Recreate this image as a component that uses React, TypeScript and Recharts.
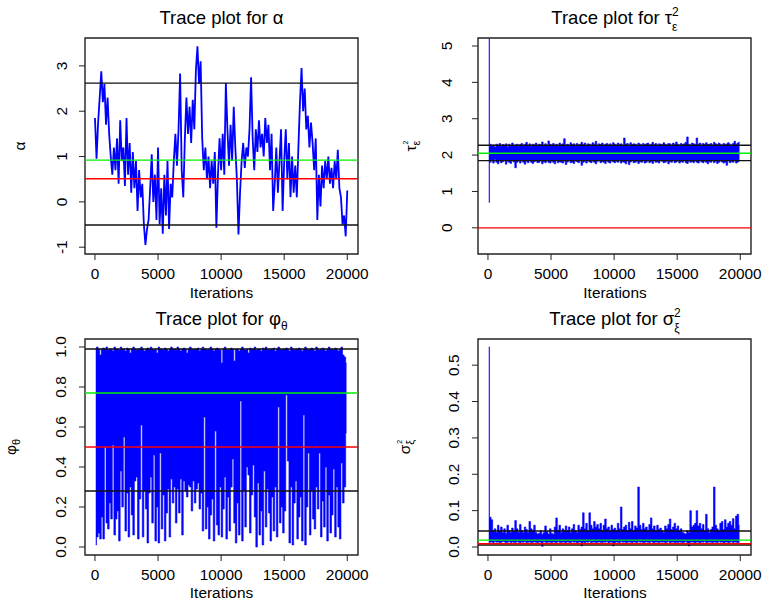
import React from 'react';
import { ComposedChart, Line, Area, XAxis, YAxis, ReferenceLine, ReferenceArea } from 'recharts';

const FONT = '"Liberation Sans", Arial, Helvetica, sans-serif';
const BLUE = '#0000FF';
const RED = '#FF0000';
const GREEN = '#00F000';
const BLACK = '#111111';

const ITER_STEP = 125;
const X_DOMAIN: [number, number] = [-790, 20850];
const xTicks = [0, 5000, 10000, 15000, 20000];

// alpha trace (one sample every 125 iterations)
const alphaTrace = [
  1.85, 0.95, 1.75, 2.3, 2.88, 2.2, 2.6, 1.7, 2.3, 1.5,
  1.0, 0.6, 1.2, 0.7, 1.4, 0.4, 1.8, 0.9, 1.2, 0.35,
  1.85, 0.6, 1.3, 0.2, 1.1, 0.3, 0.9, -0.2, 0.7, 0.1,
  0.4, -0.5, -0.95, -0.6, -0.4, 0.3, 1.05, 0.0, 0.6, -0.4,
  1.2, -0.5, 0.3, -0.7, 0.6, -0.3, 0.9, -0.6, 0.4, 0.1,
  0.9, 1.5, 0.8, 1.6, 2.83, 0.7, 0.1, 1.4, 2.3, 1.5,
  2.1, 1.3, 2.25, 1.6, 2.9, 3.43, 2.6, 3.1, 1.4, 0.7,
  1.2, 0.5, 1.0, 0.3, 0.9, 0.4, 1.1, -0.57, 0.6, 1.4,
  0.7, 1.5, 0.6, 2.62, 1.6, 0.8, 1.7, 0.9, 2.1, 1.2,
  0.5, -0.72, 0.2, 0.9, 1.3, 0.75, 1.2, 1.0, 1.6, 2.75,
  1.4, 0.7, 1.6, 1.1, 1.8, 1.2, 1.5, 1.0, 1.85, 1.3,
  1.7, 0.7, 1.5, -0.2, 0.4, 1.2, 0.2, 0.9, 1.6, -0.2,
  0.9, 1.6, 0.5, 1.3, 0.1, 1.0, 0.2, 0.8, 0.1, 1.2,
  2.2, 2.95, 2.0, 2.5, 1.6, 1.9, 1.2, 1.75, 1.3, 0.7,
  1.4, -0.4, 0.6, -0.1, 0.8, 0.3, 0.9, 0.5, 1.0, 0.4,
  0.75, 0.3, 0.9, 0.5, 1.15, 0.3, 0.1, -0.5, -0.3, -0.76,
  0.25,
];

// tau: min / max of the trace within each 125-iteration bin
const tauLo = [
  0.7, 1.8, 1.85, 1.78, 1.88, 1.8, 1.76, 1.84, 1.79, 1.82,
  1.86, 1.75, 1.83, 1.8, 1.77, 1.85, 1.81, 1.65, 1.8, 1.84,
  1.78, 1.86, 1.8, 1.75, 1.83, 1.79, 1.85, 1.8, 1.77, 1.82,
  1.84, 1.79, 1.8, 1.86, 1.76, 1.82, 1.79, 1.85, 1.8, 1.78,
  1.83, 1.8, 1.76, 1.85, 1.79, 1.82, 1.8, 1.78, 1.84, 1.74,
  1.81, 1.86, 1.79, 1.8, 1.77, 1.84, 1.82, 1.79, 1.85, 1.72,
  1.8, 1.83, 1.78, 1.85, 1.81, 1.79, 1.84, 1.8, 1.76, 1.83,
  1.85, 1.79, 1.82, 1.8, 1.77, 1.84, 1.8, 1.78, 1.86, 1.81,
  1.79, 1.83, 1.8, 1.85, 1.78, 1.82, 1.8, 1.76, 1.84, 1.74,
  1.81, 1.85, 1.79, 1.8, 1.83, 1.77, 1.82, 1.8, 1.84, 1.78,
  1.8, 1.86, 1.79, 1.82, 1.77, 1.84, 1.8, 1.81, 1.78, 1.85,
  1.83, 1.79, 1.8, 1.84, 1.76, 1.82, 1.8, 1.85, 1.79, 1.81,
  1.84, 1.78, 1.82, 1.8, 1.85, 1.79, 1.77, 1.83, 1.8, 1.82,
  1.79, 1.84, 1.8, 1.78, 1.85, 1.81, 1.79, 1.83, 1.8, 1.76,
  1.82, 1.8, 1.85, 1.79, 1.83, 1.77, 1.8, 1.84, 1.81, 1.78,
  1.8, 1.72, 1.84, 1.79, 1.82, 1.8, 1.85, 1.78, 1.81, 1.83,
];
const tauHi = [
  5.2, 2.3, 2.25, 2.28, 2.22, 2.3, 2.26, 2.32, 2.24, 2.29,
  2.27, 2.31, 2.23, 2.3, 2.26, 2.33, 2.25, 2.28, 2.3, 2.24,
  2.29, 2.32, 2.26, 2.3, 2.35, 2.27, 2.31, 2.24, 2.3, 2.28,
  2.33, 2.26, 2.3, 2.29, 2.36, 2.27, 2.31, 2.25, 2.39, 2.3,
  2.28, 2.32, 2.27, 2.3, 2.25, 2.33, 2.29, 2.31, 2.45, 2.28,
  2.3, 2.26, 2.34, 2.29, 2.31, 2.27, 2.32, 2.28, 2.3, 2.35,
  2.29, 2.33, 2.26, 2.31, 2.3, 2.28, 2.34, 2.3, 2.38, 2.27,
  2.31, 2.29, 2.33, 2.26, 2.3, 2.32, 2.28, 2.31, 2.27, 2.34,
  2.3, 2.28, 2.33, 2.29, 2.31, 2.27, 2.47, 2.3, 2.32, 2.28,
  2.34, 2.29, 2.31, 2.3, 2.27, 2.33, 2.3, 2.28, 2.32, 2.29,
  2.31, 2.33, 2.28, 2.3, 2.35, 2.29, 2.32, 2.27, 2.31, 2.3,
  2.29, 2.34, 2.3, 2.28, 2.32, 2.31, 2.27, 2.33, 2.3, 2.36,
  2.3, 2.28, 2.32, 2.29, 2.31, 2.35, 2.5, 2.3, 2.28, 2.33,
  2.31, 2.29, 2.47, 2.3, 2.33, 2.28, 2.32, 2.3, 2.34, 2.29,
  2.3, 2.32, 2.28, 2.35, 2.31, 2.29, 2.33, 2.3, 2.27, 2.32,
  2.29, 2.31, 2.34, 2.3, 2.28, 2.32, 2.38, 2.3, 2.33, 2.36,
];

// phi: min / max per bin
const phiLo = [
  0.01, 0.05, 0.07, 0.04, 0.15, 0.04, 0.5, 0.12, 0.09, 0.22,
  0.14, 0.51, 0.06, 0.14, 0.18, 0.03, 0.38, 0.2, 0.55, 0.08,
  0.27, 0.05, 0.3, 0.16, 0.06, 0.33, 0.35, 0.04, 0.24, 0.61,
  0.05, 0.28, 0.19, 0.02, 0.27, 0.35, 0.12, 0.46, 0.03, 0.2,
  0.02, 0.47, 0.09, 0.26, 0.03, 0.17, 0.29, 0.05, 0.34, 0.22,
  0.3, 0.12, 0.29, 0.17, 0.34, 0.06, 0.33, 0.28, 0.25, 0.31,
  0.3, 0.18, 0.33, 0.22, 0.29, 0.32, 0.19, 0.27, 0.08, 0.65,
  0.09, 0.2, 0.04, 0.16, 0.24, 0.03, 0.58, 0.11, 0.06, 0.3,
  0.05, 0.19, 0.35, 0.04, 0.25, 0.08, 0.3, 0.44, 0.12, 0.02,
  0.22, 0.06, 0.73, 0.03, 0.28, 0.1, 0.4, 0.36, 0.07, 0.26,
  0.41, 0.15, 0.0, 0.32, 0.06, 0.18, 0.01, 0.38, 0.1, 0.29,
  0.17, 0.03, 0.25, 0.08, 0.3, 0.05, 0.7, 0.12, 0.2, 0.07,
  0.18, 0.76, 0.43, 0.02, 0.3, 0.01, 0.22, 0.33, 0.04, 0.15,
  0.25, 0.03, 0.66, 0.01, 0.2, 0.47, 0.06, 0.28, 0.14, 0.09,
  0.3, 0.19, 0.47, 0.05, 0.23, 0.1, 0.4, 0.03, 0.26, 0.07,
  0.16, 0.39, 0.05, 0.3, 0.1, 0.04, 0.42, 0.22, 0.3, 0.57,
];
const phiHi = [
  0.99, 1.0, 0.99, 0.96, 0.99, 0.995, 0.99, 1.0, 0.985, 0.99,
  0.99, 0.98, 1.0, 0.99, 0.99, 0.985, 1.0, 0.99, 0.99, 0.98,
  0.995, 0.99, 0.97, 0.99, 1.0, 0.99, 0.985, 0.99, 0.99, 1.0,
  0.99, 0.98, 0.99, 0.995, 0.99, 1.0, 0.99, 0.985, 0.99, 0.97,
  1.0, 0.99, 0.99, 0.985, 0.995, 0.99, 0.98, 0.99, 1.0, 0.99,
  0.99, 0.985, 1.0, 0.99, 0.98, 0.99, 0.995, 0.99, 0.97, 0.99,
  1.0, 0.99, 0.985, 0.99, 0.99, 0.995, 0.98, 0.99, 1.0, 0.99,
  0.99, 0.985, 0.99, 1.0, 0.99, 0.98, 0.99, 0.995, 0.99, 0.985,
  0.92, 0.99, 1.0, 0.99, 0.985, 0.99, 0.995, 0.99, 0.93, 0.99,
  0.99, 0.98, 0.99, 1.0, 0.99, 0.985, 0.99, 0.97, 0.995, 0.99,
  0.99, 1.0, 0.985, 0.99, 0.99, 0.98, 0.995, 0.99, 1.0, 0.99,
  0.985, 0.99, 0.99, 0.995, 0.98, 0.99, 1.0, 0.99, 0.985, 0.99,
  0.99, 0.995, 0.99, 0.98, 1.0, 0.99, 0.985, 0.99, 0.99, 0.995,
  0.99, 0.98, 0.99, 1.0, 0.99, 0.985, 0.99, 0.995, 0.99, 0.98,
  1.0, 0.99, 0.985, 0.99, 0.995, 0.99, 0.98, 0.99, 1.0, 0.99,
  0.99, 0.985, 0.995, 0.99, 0.98, 0.99, 1.0, 0.96, 0.95, 0.92,
];

// sigma^2: min / max per bin
const sigLo = [
  0.012, 0.013, 0.014, 0.012, 0.015, 0.013, 0.014, 0.012, 0.013, 0.015,
  0.014, 0.012, 0.013, 0.015, 0.012, 0.014, 0.013, 0.012, 0.015, 0.013,
  0.012, 0.014, 0.013, 0.015, 0.012, 0.013, 0.014, 0.012, 0.013, 0.014,
  0.013, 0.012, 0.014, 0.013, 0.002, 0.015, 0.013, 0.012, 0.014, 0.013,
  0.012, 0.014, 0.013, 0.012, 0.015, 0.013, 0.012, 0.014, 0.013, 0.012,
  0.014, 0.013, 0.012, 0.015, 0.013, 0.014, 0.012, 0.013, 0.014, 0.003,
  0.013, 0.012, 0.014, 0.013, 0.015, 0.012, 0.013, 0.014, 0.012, 0.013,
  0.014, 0.013, 0.012, 0.014, 0.013, 0.015, 0.012, 0.013, 0.014, 0.003,
  0.012, 0.014, 0.013, 0.012, 0.015, 0.013, 0.014, 0.012, 0.013, 0.014,
  0.013, 0.012, 0.014, 0.013, 0.012, 0.015, 0.013, 0.014, 0.012, 0.013,
  0.014, 0.013, 0.012, 0.015, 0.013, 0.012, 0.014, 0.013, 0.012, 0.014,
  0.013, 0.014, 0.012, 0.013, 0.015, 0.012, 0.013, 0.014, 0.012, 0.013,
  0.012, 0.014, 0.013, 0.012, 0.013, 0.015, 0.012, 0.003, 0.013, 0.014,
  0.013, 0.012, 0.014, 0.013, 0.012, 0.014, 0.013, 0.015, 0.012, 0.013,
  0.014, 0.013, 0.012, 0.014, 0.013, 0.012, 0.015, 0.013, 0.014, 0.012,
  0.013, 0.014, 0.012, 0.013, 0.015, 0.012, 0.014, 0.013, 0.012, 0.013,
];
const sigHi = [
  0.55, 0.082, 0.075, 0.045, 0.05, 0.04, 0.06, 0.045, 0.055, 0.04,
  0.05, 0.038, 0.06, 0.045, 0.04, 0.052, 0.042, 0.073, 0.05, 0.04,
  0.062, 0.045, 0.04, 0.055, 0.048, 0.04, 0.07, 0.05, 0.045, 0.06,
  0.04, 0.036, 0.038, 0.045, 0.035, 0.04, 0.058, 0.042, 0.036, 0.05,
  0.038, 0.035, 0.055, 0.08, 0.045, 0.06, 0.04, 0.05, 0.045, 0.058,
  0.045, 0.055, 0.04, 0.05, 0.062, 0.045, 0.04, 0.06, 0.048, 0.055,
  0.094, 0.05, 0.065, 0.045, 0.094, 0.06, 0.05, 0.07, 0.055, 0.062,
  0.05, 0.065, 0.045, 0.06, 0.077, 0.05, 0.055, 0.045, 0.06, 0.048,
  0.052, 0.045, 0.065, 0.05, 0.11, 0.048, 0.055, 0.06, 0.045, 0.068,
  0.05, 0.07, 0.045, 0.058, 0.052, 0.165, 0.06, 0.048, 0.065, 0.05,
  0.055, 0.045, 0.062, 0.08, 0.05, 0.058, 0.045, 0.06, 0.048, 0.052,
  0.045, 0.04, 0.058, 0.05, 0.062, 0.077, 0.048, 0.055, 0.065, 0.05,
  0.058, 0.045, 0.05, 0.04, 0.038, 0.036, 0.045, 0.04, 0.1, 0.055,
  0.06, 0.065, 0.1, 0.058, 0.065, 0.05, 0.062, 0.045, 0.09, 0.05,
  0.04, 0.048, 0.055, 0.165, 0.06, 0.05, 0.045, 0.065, 0.07, 0.048,
  0.075, 0.055, 0.065, 0.07, 0.06, 0.078, 0.05, 0.085, 0.09, 0.06,
];

// horizontal reference lines: [value, colour]
const alphaRefs: [number, string][] = [[2.62, BLACK], [-0.51, BLACK], [0.92, GREEN], [0.51, RED]];
const tauRefs: [number, string][] = [[2.27, BLACK], [1.85, BLACK], [2.05, GREEN], [0, RED]];
const phiRefs: [number, string][] = [[0.99, BLACK], [0.28, BLACK], [0.77, GREEN], [0.5, RED]];
const sigRefs: [number, string][] = [[0.044, BLACK], [0.0055, BLACK], [0.019, GREEN], [0.009, RED]];

const alphaRows = alphaTrace.map((v, i) => ({ it: i * ITER_STEP, v }));
const binRows = (lo: number[], hi: number[]) =>
  lo.map((l, i) => ({ it: i * ITER_STEP + ITER_STEP / 2, r: [l, hi[i]] }));
const tauRows = binRows(tauLo, tauHi);
const phiRows = binRows(phiLo, phiHi);
const sigRows = binRows(sigLo, sigHi);

const TICK_FS = 15.4;

function XTick(props: any) {
  const { x, y, payload } = props;
  return (
    <text x={x} y={y} textAnchor="middle" fontSize={TICK_FS} fontFamily={FONT} fill="#000">
      {payload.value}
    </text>
  );
}

function makeYTick(fmt: (v: number) => string) {
  return function YTick(props: any) {
    const { x, y, payload } = props;
    return (
      <text x={x} y={y} transform={`rotate(-90 ${x} ${y})`} textAnchor="middle" fontSize={TICK_FS} fontFamily={FONT} fill="#000">
        {fmt(payload.value)}
      </text>
    );
  };
}

interface PanelProps {
  rows: any[];
  kind: 'line' | 'band';
  yDomain: [number, number];
  yTicks: number[];
  fmt: (v: number) => string;
  tickMargin: number;
  refs: [number, string][];
}

function Panel({ rows, kind, yDomain, yTicks, fmt, tickMargin, refs }: PanelProps) {
  return (
    <ComposedChart width={373} height={302} data={rows} margin={{ top: 38, right: 15, bottom: 8, left: 45 }}>
      <XAxis
        type="number"
        dataKey="it"
        domain={X_DOMAIN}
        ticks={xTicks}
        interval={0}
        allowDataOverflow
        height={40}
        tickSize={6}
        tickMargin={19}
        axisLine={false}
        tickLine={{ stroke: '#222' }}
        tick={XTick}
      />
      <YAxis
        type="number"
        domain={yDomain}
        ticks={yTicks}
        interval={0}
        allowDataOverflow
        width={40}
        tickSize={6}
        tickMargin={tickMargin}
        axisLine={false}
        tickLine={{ stroke: '#222' }}
        tick={makeYTick(fmt)}
      />
      {kind === 'line' ? (
        <Line dataKey="v" type="linear" stroke={BLUE} strokeWidth={1.8} dot={false} isAnimationActive={false} />
      ) : (
        <Area dataKey="r" type="step" fill={BLUE} fillOpacity={1} stroke={BLUE} strokeWidth={0.6} isAnimationActive={false} />
      )}
      {refs.map(([v, c], i) => (
        <ReferenceLine key={i} y={v} stroke={c} strokeWidth={1.3} />
      ))}
      <ReferenceArea x1={X_DOMAIN[0]} x2={X_DOMAIN[1]} y1={yDomain[0]} y2={yDomain[1]} fill="none" stroke="#222" strokeWidth={1.4} />
    </ComposedChart>
  );
}

const fmtInt = (v: number) => String(v);
const fmt1 = (v: number) => v.toFixed(1);

export default function App() {
  const T = 18.5;
  const S = 12;
  return (
    <div style={{ position: 'absolute', left: 0, top: 0, width: 767, height: 604, background: '#fff', overflow: 'hidden' }}>
      <div style={{ position: 'absolute', left: 0, top: 0 }}>
        <Panel rows={alphaRows} kind="line" yDomain={[-1.15, 3.615]} yTicks={[-1, 0, 1, 2, 3]} fmt={fmtInt} tickMargin={12} refs={alphaRefs} />
      </div>
      <div style={{ position: 'absolute', left: 393, top: 0 }}>
        <Panel rows={tauRows} kind="band" yDomain={[-0.72, 5.22]} yTicks={[0, 1, 2, 3, 4, 5]} fmt={fmtInt} tickMargin={20} refs={tauRefs} />
      </div>
      <div style={{ position: 'absolute', left: 0, top: 301 }}>
        <Panel rows={phiRows} kind="band" yDomain={[-0.04, 1.04]} yTicks={[0, 0.2, 0.4, 0.6, 0.8, 1.0]} fmt={fmt1} tickMargin={13} refs={phiRefs} />
      </div>
      <div style={{ position: 'absolute', left: 393, top: 301 }}>
        <Panel rows={sigRows} kind="band" yDomain={[-0.022, 0.572]} yTicks={[0, 0.1, 0.2, 0.3, 0.4, 0.5]} fmt={fmt1} tickMargin={13} refs={sigRefs} />
      </div>
      <svg width={767} height={604} style={{ position: 'absolute', left: 0, top: 0, pointerEvents: 'none' }} fontFamily={FONT}>
        <text x={221.5} y={24} textAnchor="middle" fontSize={T}>Trace plot for α</text>
        <text x={615} y={24} textAnchor="middle" fontSize={T}>
          Trace plot for τ<tspan dy={7} fontSize={S}>ε</tspan>
          <tspan dx={-5.5} dy={-15} fontSize={S}>2</tspan>
        </text>
        <text x={221.5} y={325} textAnchor="middle" fontSize={T}>
          Trace plot for φ<tspan dy={5} fontSize={S}>θ</tspan>
        </text>
        <text x={615} y={325} textAnchor="middle" fontSize={T}>
          Trace plot for σ<tspan dy={7} fontSize={S}>ξ</tspan>
          <tspan dx={-5.5} dy={-15} fontSize={S}>2</tspan>
        </text>

        <text x={221.5} y={298} textAnchor="middle" fontSize={TICK_FS}>Iterations</text>
        <text x={615} y={298} textAnchor="middle" fontSize={TICK_FS}>Iterations</text>
        <text x={221.5} y={598} textAnchor="middle" fontSize={TICK_FS}>Iterations</text>
        <text x={615} y={598} textAnchor="middle" fontSize={TICK_FS}>Iterations</text>

        <text x={25} y={146} transform="rotate(-90 25 146)" textAnchor="middle" fontSize={TICK_FS}>α</text>
        <text x={416} y={146} transform="rotate(-90 416 146)" textAnchor="middle" fontSize={TICK_FS}>
          τ<tspan dy={4} fontSize={11}>ε</tspan>
          <tspan dx={-4} dy={-12} fontSize={7}>2</tspan>
        </text>
        <text x={16} y={447} transform="rotate(-90 16 447)" textAnchor="middle" fontSize={TICK_FS}>
          φ<tspan dy={4} fontSize={11}>θ</tspan>
        </text>
        <text x={410} y={447} transform="rotate(-90 410 447)" textAnchor="middle" fontSize={TICK_FS}>
          σ<tspan dy={4} fontSize={11}>ξ</tspan>
          <tspan dx={-4} dy={-12} fontSize={7}>2</tspan>
        </text>
      </svg>
    </div>
  );
}
